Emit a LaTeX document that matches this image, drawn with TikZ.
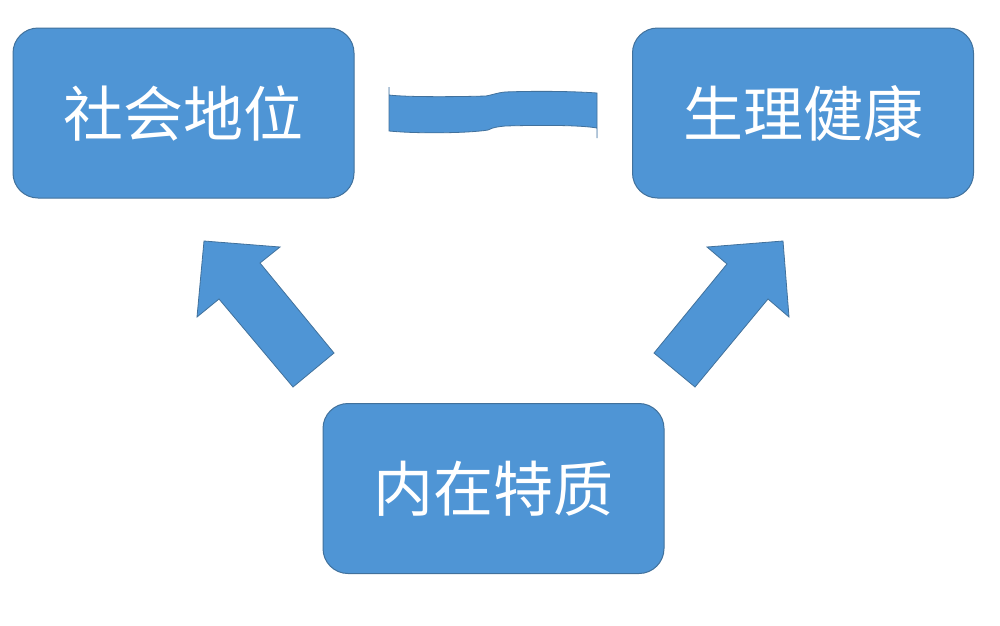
\documentclass[tikz,border=0pt]{standalone}
\usepackage{fontspec}
\newfontfamily\cjk{Noto Sans CJK SC}
\definecolor{boxfill}{HTML}{4F95D5}
\definecolor{boxline}{HTML}{41719C}
\tikzset{
  card/.style={rectangle, rounded corners=25pt, fill=boxfill, draw=boxline, line width=1pt,
    minimum width=341pt, minimum height=170pt, inner sep=0pt, text=white,
    font=\cjk\fontsize{60}{64}\selectfont},
  blockshape/.style={fill=boxfill, draw=boxline, line width=0.8pt, line join=miter}
}
\begin{document}
\begin{tikzpicture}[x=1pt,y=-1pt]
\useasboundingbox (0,0) rectangle (1000,625);
\fill[white] (0,0) rectangle (1000,625);
\node[card] (social) at (183.5,113) {社会地位};
\node[card] (health) at (803,113) {生理健康};
\node[card] (inner) at (493.5,488.5) {内在特质};
% left block arrow
\draw[blockshape] (204,241) -- (280,247) -- (260,263) -- (334,353) -- (293,387) -- (219,299) -- (197,317) -- cycle;
% right block arrow
\draw[blockshape] (783,241) -- (789,317) -- (768,299) -- (695,387) -- (654,353) -- (727,264) -- (707,247) -- cycle;
% wave band
\draw[blockshape] (389,87) -- (389,131)
  .. controls (420,134) and (470,133) .. (488,130)
  .. controls (494,127) and (497,127) .. (505,126)
  .. controls (540,125) and (580,125) .. (597,128)
  -- (597,138) -- (597,93)
  .. controls (570,91) and (530,91) .. (505,92)
  .. controls (496,93) and (492,95) .. (486,96)
  .. controls (450,97) and (405,97) .. (389,95) -- cycle;
\end{tikzpicture}
\end{document}
